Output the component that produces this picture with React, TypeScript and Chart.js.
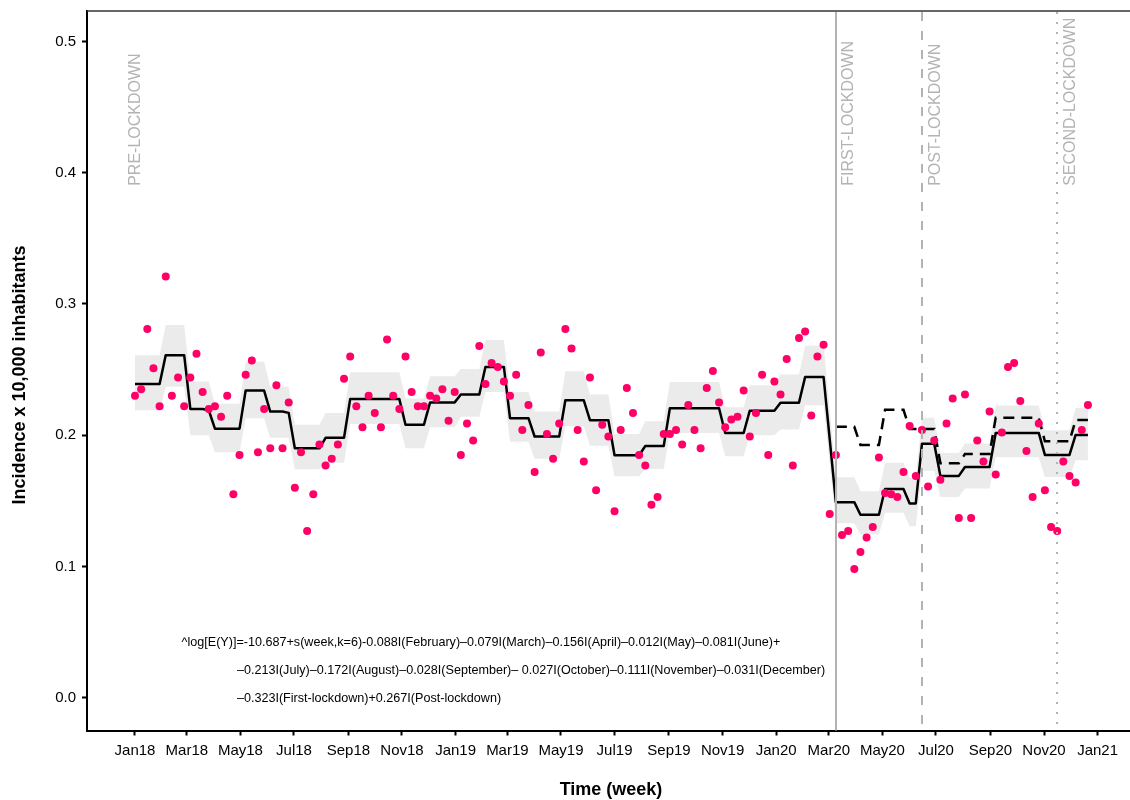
import React, { useEffect, useRef } from 'react';
import { Chart, registerables } from 'chart.js';

Chart.register(...registerables);

// ---------------- DATA ----------------
const startDate = '2018-01-01'; // week 0 (weekly observations)

const weeklyIncidence = [
  0.230, 0.235, 0.281, 0.251, 0.222, 0.321, 0.230, 0.244, 0.222, 0.244, 0.262, 0.233, 0.220,
  0.222, 0.214, 0.230, 0.155, 0.185, 0.246, 0.257, 0.187, 0.220, 0.190, 0.238, 0.190, 0.225,
  0.160, 0.187, 0.127, 0.155, 0.193, 0.177, 0.182, 0.193, 0.243, 0.260, 0.222, 0.206, 0.230,
  0.217, 0.206, 0.273, 0.230, 0.220, 0.260, 0.233, 0.222, 0.222, 0.230, 0.228, 0.235, 0.211,
  0.233, 0.185, 0.209, 0.196, 0.268, 0.239, 0.255, 0.252, 0.241, 0.230, 0.246, 0.204, 0.223,
  0.172, 0.263, 0.201, 0.182, 0.209, 0.281, 0.266, 0.204, 0.180, 0.244, 0.158, 0.208, 0.199,
  0.142, 0.204, 0.236, 0.217, 0.185, 0.177, 0.147, 0.153, 0.201, 0.201, 0.204, 0.193, 0.223,
  0.204, 0.190, 0.236, 0.249, 0.225, 0.206, 0.212, 0.214, 0.234, 0.199, 0.217, 0.246, 0.185,
  0.241, 0.231, 0.258, 0.177, 0.274, 0.279, 0.215, 0.260, 0.269, 0.140, 0.185, 0.124, 0.127,
  0.098, 0.111, 0.122, 0.130, 0.183, 0.156, 0.155, 0.153, 0.172, 0.207, 0.169, 0.204, 0.161,
  0.196, 0.166, 0.209, 0.228, 0.137, 0.231, 0.137, 0.196, 0.180, 0.218, 0.170, 0.202, 0.252,
  0.255, 0.226, 0.188, 0.153, 0.209, 0.158, 0.130, 0.127, 0.180, 0.169, 0.164, 0.204, 0.223,
];

const fittedIncidence = [
  0.239, 0.239, 0.239, 0.239, 0.239, 0.261, 0.261, 0.261, 0.261, 0.220, 0.220, 0.220, 0.219,
  0.205, 0.205, 0.205, 0.205, 0.205, 0.234, 0.234, 0.234, 0.234, 0.218, 0.218, 0.218, 0.217,
  0.190, 0.190, 0.190, 0.190, 0.190, 0.198, 0.198, 0.198, 0.198, 0.2275, 0.2275, 0.2275, 0.2275,
  0.2275, 0.2275, 0.2275, 0.2275, 0.2275, 0.208, 0.208, 0.208, 0.208, 0.225, 0.225, 0.225, 0.225,
  0.225, 0.231, 0.231, 0.231, 0.231, 0.252, 0.252, 0.252, 0.252, 0.213, 0.213, 0.213, 0.213,
  0.199, 0.199, 0.199, 0.199, 0.199, 0.2266, 0.2266, 0.2266, 0.2266, 0.2114, 0.2114, 0.2114, 0.2114,
  0.1847, 0.1847, 0.1847, 0.1847, 0.1847, 0.1918, 0.1918, 0.1918, 0.1918, 0.2205, 0.2205, 0.2205, 0.2205,
  0.2205, 0.2205, 0.2205, 0.2205, 0.2205, 0.2017, 0.2017, 0.2017, 0.2017, 0.2187, 0.2187, 0.2187, 0.2187,
  0.2187, 0.2248, 0.2248, 0.2248, 0.2248, 0.2444, 0.2444, 0.2444, 0.2444, 0.197, 0.149, 0.149, 0.149,
  0.149, 0.1394, 0.1394, 0.1394, 0.1394, 0.159, 0.159, 0.159, 0.159, 0.148, 0.148, 0.1934, 0.1934,
  0.1934, 0.169, 0.169, 0.169, 0.169, 0.1758, 0.1758, 0.1758, 0.1758, 0.1758, 0.2017, 0.2017, 0.2017,
  0.2017, 0.2017, 0.2017, 0.2017, 0.2017, 0.185, 0.185, 0.185, 0.185, 0.185, 0.2002, 0.2002, 0.2002,
];

const ciUpper = [
  0.261, 0.261, 0.261, 0.261, 0.261, 0.284, 0.284, 0.284, 0.284, 0.241, 0.241, 0.241, 0.241,
  0.224, 0.224, 0.224, 0.224, 0.224, 0.256, 0.256, 0.256, 0.256, 0.237, 0.237, 0.237, 0.237,
  0.208, 0.208, 0.208, 0.208, 0.208, 0.217, 0.217, 0.217, 0.217, 0.248, 0.248, 0.248, 0.248,
  0.248, 0.248, 0.248, 0.248, 0.248, 0.228, 0.228, 0.228, 0.228, 0.245, 0.245, 0.245, 0.245,
  0.245, 0.2505, 0.2505, 0.2505, 0.2505, 0.2726, 0.2726, 0.2726, 0.2726, 0.233, 0.233, 0.233, 0.233,
  0.218, 0.218, 0.218, 0.218, 0.218, 0.2487, 0.2487, 0.2487, 0.2487, 0.231, 0.231, 0.231, 0.231,
  0.201, 0.201, 0.201, 0.201, 0.201, 0.2106, 0.2106, 0.2106, 0.2106, 0.2406, 0.2406, 0.2406, 0.2406,
  0.2406, 0.2406, 0.2406, 0.2406, 0.2406, 0.2213, 0.2213, 0.2213, 0.2213, 0.238, 0.238, 0.238, 0.238,
  0.238, 0.2462, 0.2462, 0.2462, 0.2462, 0.2683, 0.2683, 0.2683, 0.2683, 0.220, 0.168, 0.168, 0.168,
  0.168, 0.1573, 0.1573, 0.1573, 0.1573, 0.179, 0.179, 0.179, 0.179, 0.1675, 0.1675, 0.2132, 0.2132,
  0.2132, 0.1865, 0.1865, 0.1865, 0.1865, 0.1936, 0.1936, 0.1936, 0.1936, 0.1936, 0.2226, 0.2226, 0.2226,
  0.2226, 0.2226, 0.2226, 0.2226, 0.2226, 0.2038, 0.2038, 0.2038, 0.2038, 0.2038, 0.2208, 0.2208, 0.2208,
];

const ciLower = [
  0.219, 0.219, 0.219, 0.219, 0.219, 0.237, 0.237, 0.237, 0.237, 0.200, 0.200, 0.200, 0.200,
  0.187, 0.187, 0.187, 0.187, 0.187, 0.213, 0.213, 0.213, 0.213, 0.198, 0.198, 0.198, 0.198,
  0.174, 0.174, 0.174, 0.174, 0.174, 0.179, 0.179, 0.179, 0.179, 0.2086, 0.2086, 0.2086, 0.2086,
  0.2086, 0.2086, 0.2086, 0.2086, 0.2086, 0.190, 0.190, 0.190, 0.190, 0.206, 0.206, 0.206, 0.206,
  0.206, 0.214, 0.214, 0.214, 0.214, 0.233, 0.233, 0.233, 0.233, 0.195, 0.195, 0.195, 0.195,
  0.182, 0.182, 0.182, 0.182, 0.182, 0.2068, 0.2068, 0.2068, 0.2068, 0.192, 0.192, 0.192, 0.192,
  0.1687, 0.1687, 0.1687, 0.1687, 0.1687, 0.1743, 0.1743, 0.1743, 0.1743, 0.2017, 0.2017, 0.2017, 0.2017,
  0.2017, 0.2017, 0.2017, 0.2017, 0.2017, 0.184, 0.184, 0.184, 0.184, 0.200, 0.200, 0.200, 0.200,
  0.200, 0.2043, 0.2043, 0.2043, 0.2043, 0.2228, 0.2228, 0.2228, 0.2228, 0.178, 0.133, 0.133, 0.133,
  0.133, 0.1243, 0.1243, 0.1243, 0.1243, 0.141, 0.141, 0.141, 0.141, 0.1306, 0.1306, 0.173, 0.173,
  0.173, 0.153, 0.153, 0.153, 0.153, 0.1593, 0.1593, 0.1593, 0.1593, 0.1593, 0.1832, 0.1832, 0.1832,
  0.1832, 0.1832, 0.1832, 0.1832, 0.1832, 0.1682, 0.1682, 0.1682, 0.1682, 0.1682, 0.1809, 0.1809, 0.1809,
];

// Counterfactual (no-lockdown) prediction, starting at week 114 (2020-03-09)
const counterfactualStartWeek = 114;
const counterfactualIncidence = [
  0.2064, 0.2064, 0.2064, 0.2064, 0.1926, 0.1926, 0.1926, 0.1926,
  0.2193, 0.2193, 0.2193, 0.2193, 0.2047, 0.2047, 0.2047, 0.2047, 0.2047,
  0.1786, 0.1786, 0.1786, 0.1786, 0.1857, 0.1857, 0.1857, 0.1857, 0.1857,
  0.2132, 0.2132, 0.2132, 0.2132, 0.2132, 0.2132, 0.2132, 0.2132,
  0.1954, 0.1954, 0.1954, 0.1954, 0.1954, 0.2116, 0.2116, 0.2116,
];

const tickDates = [
  '2018-01-01', '2018-03-01', '2018-05-01', '2018-07-01', '2018-09-01', '2018-11-01',
  '2019-01-01', '2019-03-01', '2019-05-01', '2019-07-01', '2019-09-01', '2019-11-01',
  '2020-01-01', '2020-03-01', '2020-05-01', '2020-07-01', '2020-09-01', '2020-11-01',
  '2021-01-01',
];
const tickLabels = [
  'Jan18', 'Mar18', 'May18', 'Jul18', 'Sep18', 'Nov18',
  'Jan19', 'Mar19', 'May19', 'Jul19', 'Sep19', 'Nov19',
  'Jan20', 'Mar20', 'May20', 'Jul20', 'Sep20', 'Nov20',
  'Jan21',
];
const yTicks = [0, 0.1, 0.2, 0.3, 0.4, 0.5];

const periodLabels = ['PRE-LOCKDOWN', 'FIRST-LOCKDOWN', 'POST-LOCKDOWN', 'SECOND-LOCKDOWN'];
const periodLabelDates = ['2018-01-02', '2020-03-24', '2020-07-01', '2020-12-01'];
const periodLabelY = 0.39;
const interventionDates = ['2020-03-09', '2020-06-15', '2020-11-16'];

const equationLines = [
  '^log[E(Y)]=-10.687+s(week,k=6)-0.088I(February)\u20130.079I(March)\u20130.156I(April)\u20130.012I(May)\u20130.081I(June)+',
  '\u20130.213I(July)\u20130.172I(August)\u20130.028I(September)\u2013 0.027I(October)\u20130.111I(November)\u20130.031I(December)',
  '\u20130.323I(First-lockdown)+0.267I(Post-lockdown)',
];
const equationDates = ['2018-02-23', '2018-04-27', '2018-04-27'];
const equationY = [0.0419, 0.0209, -0.0008];

// ---------------- HELPERS ----------------
const DAY = 86400000;
const dayOf = (d: string) => (Date.parse(d) - Date.parse(startDate)) / DAY;
const FONT = "'Liberation Sans', Arial, Helvetica, sans-serif";

export default function App() {
  const ref = useRef<HTMLCanvasElement | null>(null);

  useEffect(() => {
    const canvas = ref.current;
    if (!canvas) return;

    const tickDays = tickDates.map(dayOf);
    const labelByDay = new Map<number, string>();
    tickDays.forEach((d, i) => labelByDay.set(d, tickLabels[i]));

    const pts = weeklyIncidence.map((v, i) => ({ x: i * 7, y: v }));
    const fit = fittedIncidence.map((v, i) => ({ x: i * 7, y: v }));
    const up = ciUpper.map((v, i) => ({ x: i * 7, y: v }));
    const lo = ciLower.map((v, i) => ({ x: i * 7, y: v }));
    const cf = counterfactualIncidence.map((v, i) => ({ x: (counterfactualStartWeek + i) * 7, y: v }));

    const overlay = {
      id: 'overlay',
      afterDatasetsDraw(chart: any) {
        const { ctx, chartArea, scales } = chart;
        const x = scales.x;
        const y = scales.y;
        ctx.save();
        // intervention lines
        const dashes = [[], [9, 10], [2, 8]];
        interventionDates.forEach((d, i) => {
          const px = Math.round(x.getPixelForValue(dayOf(d)));
          ctx.beginPath();
          ctx.strokeStyle = '#b3b3b3';
          ctx.lineWidth = 2;
          ctx.lineCap = 'butt';
          ctx.setLineDash(dashes[i]);
          ctx.moveTo(px, chartArea.top + 1);
          ctx.lineTo(px, chartArea.bottom);
          ctx.stroke();
        });
        ctx.setLineDash([]);
        // period labels
        ctx.fillStyle = '#b3b3b3';
        ctx.font = `16px ${FONT}`;
        ctx.textAlign = 'left';
        ctx.textBaseline = 'middle';
        periodLabels.forEach((t, i) => {
          const px = x.getPixelForValue(dayOf(periodLabelDates[i]));
          const py = y.getPixelForValue(periodLabelY);
          ctx.save();
          ctx.translate(px, py);
          ctx.rotate(-Math.PI / 2);
          ctx.fillText(t, 0, 0);
          ctx.restore();
        });
        // equation
        ctx.fillStyle = '#000';
        ctx.font = `12.6px ${FONT}`;
        ctx.textAlign = 'left';
        ctx.textBaseline = 'middle';
        equationLines.forEach((t, i) => {
          ctx.fillText(t, x.getPixelForValue(dayOf(equationDates[i])), y.getPixelForValue(equationY[i]));
        });
        ctx.restore();
      },
      afterDraw(chart: any) {
        const { ctx, chartArea } = chart;
        ctx.save();
        // top panel border
        ctx.strokeStyle = '#333333';
        ctx.lineWidth = 1.5;
        ctx.beginPath();
        ctx.moveTo(chartArea.left, chartArea.top);
        ctx.lineTo(chart.width, chartArea.top);
        ctx.stroke();
        // axis titles
        ctx.fillStyle = '#000';
        ctx.font = `bold 18px ${FONT}`;
        ctx.textAlign = 'center';
        ctx.textBaseline = 'middle';
        ctx.fillText('Time (week)', 611, 790);
        ctx.save();
        ctx.translate(20, 375);
        ctx.rotate(-Math.PI / 2);
        ctx.fillText('Incidence x 10,000 inhabitants', 0, 0);
        ctx.restore();
        ctx.restore();
      },
    };

    const chart = new Chart(canvas, {
      type: 'line',
      data: {
        datasets: [
          {
            type: 'scatter',
            label: 'Observed',
            data: pts,
            backgroundColor: '#ff0066',
            borderColor: '#ff0066',
            pointRadius: 4,
            pointBorderWidth: 0,
            pointHoverRadius: 4,
            showLine: false,
            order: 0,
          } as any,
          {
            label: 'Fitted',
            data: fit,
            borderColor: '#000000',
            borderWidth: 2.5,
            pointRadius: 0,
            fill: false,
            tension: 0,
            borderJoinStyle: 'round',
            order: 1,
          },
          {
            label: 'Counterfactual',
            data: cf,
            borderColor: '#000000',
            borderWidth: 2.5,
            borderDash: [11, 7],
            pointRadius: 0,
            fill: false,
            tension: 0,
            order: 2,
          },
          {
            label: 'CI upper',
            data: up,
            borderColor: 'rgba(0,0,0,0)',
            borderWidth: 0,
            backgroundColor: '#ebebeb',
            pointRadius: 0,
            fill: '+1',
            tension: 0,
            order: 3,
          },
          {
            label: 'CI lower',
            data: lo,
            borderColor: 'rgba(0,0,0,0)',
            borderWidth: 0,
            pointRadius: 0,
            fill: false,
            tension: 0,
            order: 4,
          },
        ],
      },
      options: {
        responsive: false,
        animation: false,
        events: [],
        layout: { autoPadding: false, padding: { top: 11, left: 0, right: 0, bottom: 0 } },
        plugins: {
          legend: { display: false },
          tooltip: { enabled: false },
        },
        scales: {
          x: {
            type: 'linear',
            min: -54.65,
            max: 1132.9,
            afterBuildTicks: (s: any) => {
              s.ticks = tickDays.map((v) => ({ value: v }));
            },
            afterFit: (s: any) => {
              s.height = 69.5;
              s.paddingLeft = 0;
              s.paddingRight = 0;
            },
            ticks: {
              autoSkip: false,
              maxRotation: 0,
              minRotation: 0,
              padding: 6,
              color: '#000',
              font: { family: FONT, size: 15 },
              callback: (v: any) => labelByDay.get(Number(v)) ?? '',
            },
            grid: {
              drawOnChartArea: false,
              drawTicks: true,
              tickLength: 5,
              tickColor: '#000',
              tickWidth: 2,
            },
            border: { color: '#000', width: 2 },
          },
          y: {
            type: 'linear',
            min: -0.025,
            max: 0.5232,
            afterBuildTicks: (s: any) => {
              s.ticks = yTicks.map((v) => ({ value: v }));
            },
            afterFit: (s: any) => {
              s.width = 87;
              s.paddingTop = 0;
              s.paddingBottom = 0;
            },
            ticks: {
              padding: 6,
              color: '#000',
              font: { family: FONT, size: 15 },
              callback: (v: any) => Number(v).toFixed(1),
            },
            grid: {
              drawOnChartArea: false,
              drawTicks: true,
              tickLength: 5,
              tickColor: '#000',
              tickWidth: 2,
            },
            border: { color: '#000', width: 2 },
          },
        },
      } as any,
      plugins: [overlay],
    });

    return () => chart.destroy();
  }, []);

  return (
    <div style={{ position: 'absolute', left: 0, top: 0, width: 1130, height: 800, background: '#fff' }}>
      <canvas ref={ref} width={1130} height={800} style={{ display: 'block', width: 1130, height: 800 }} />
    </div>
  );
}
